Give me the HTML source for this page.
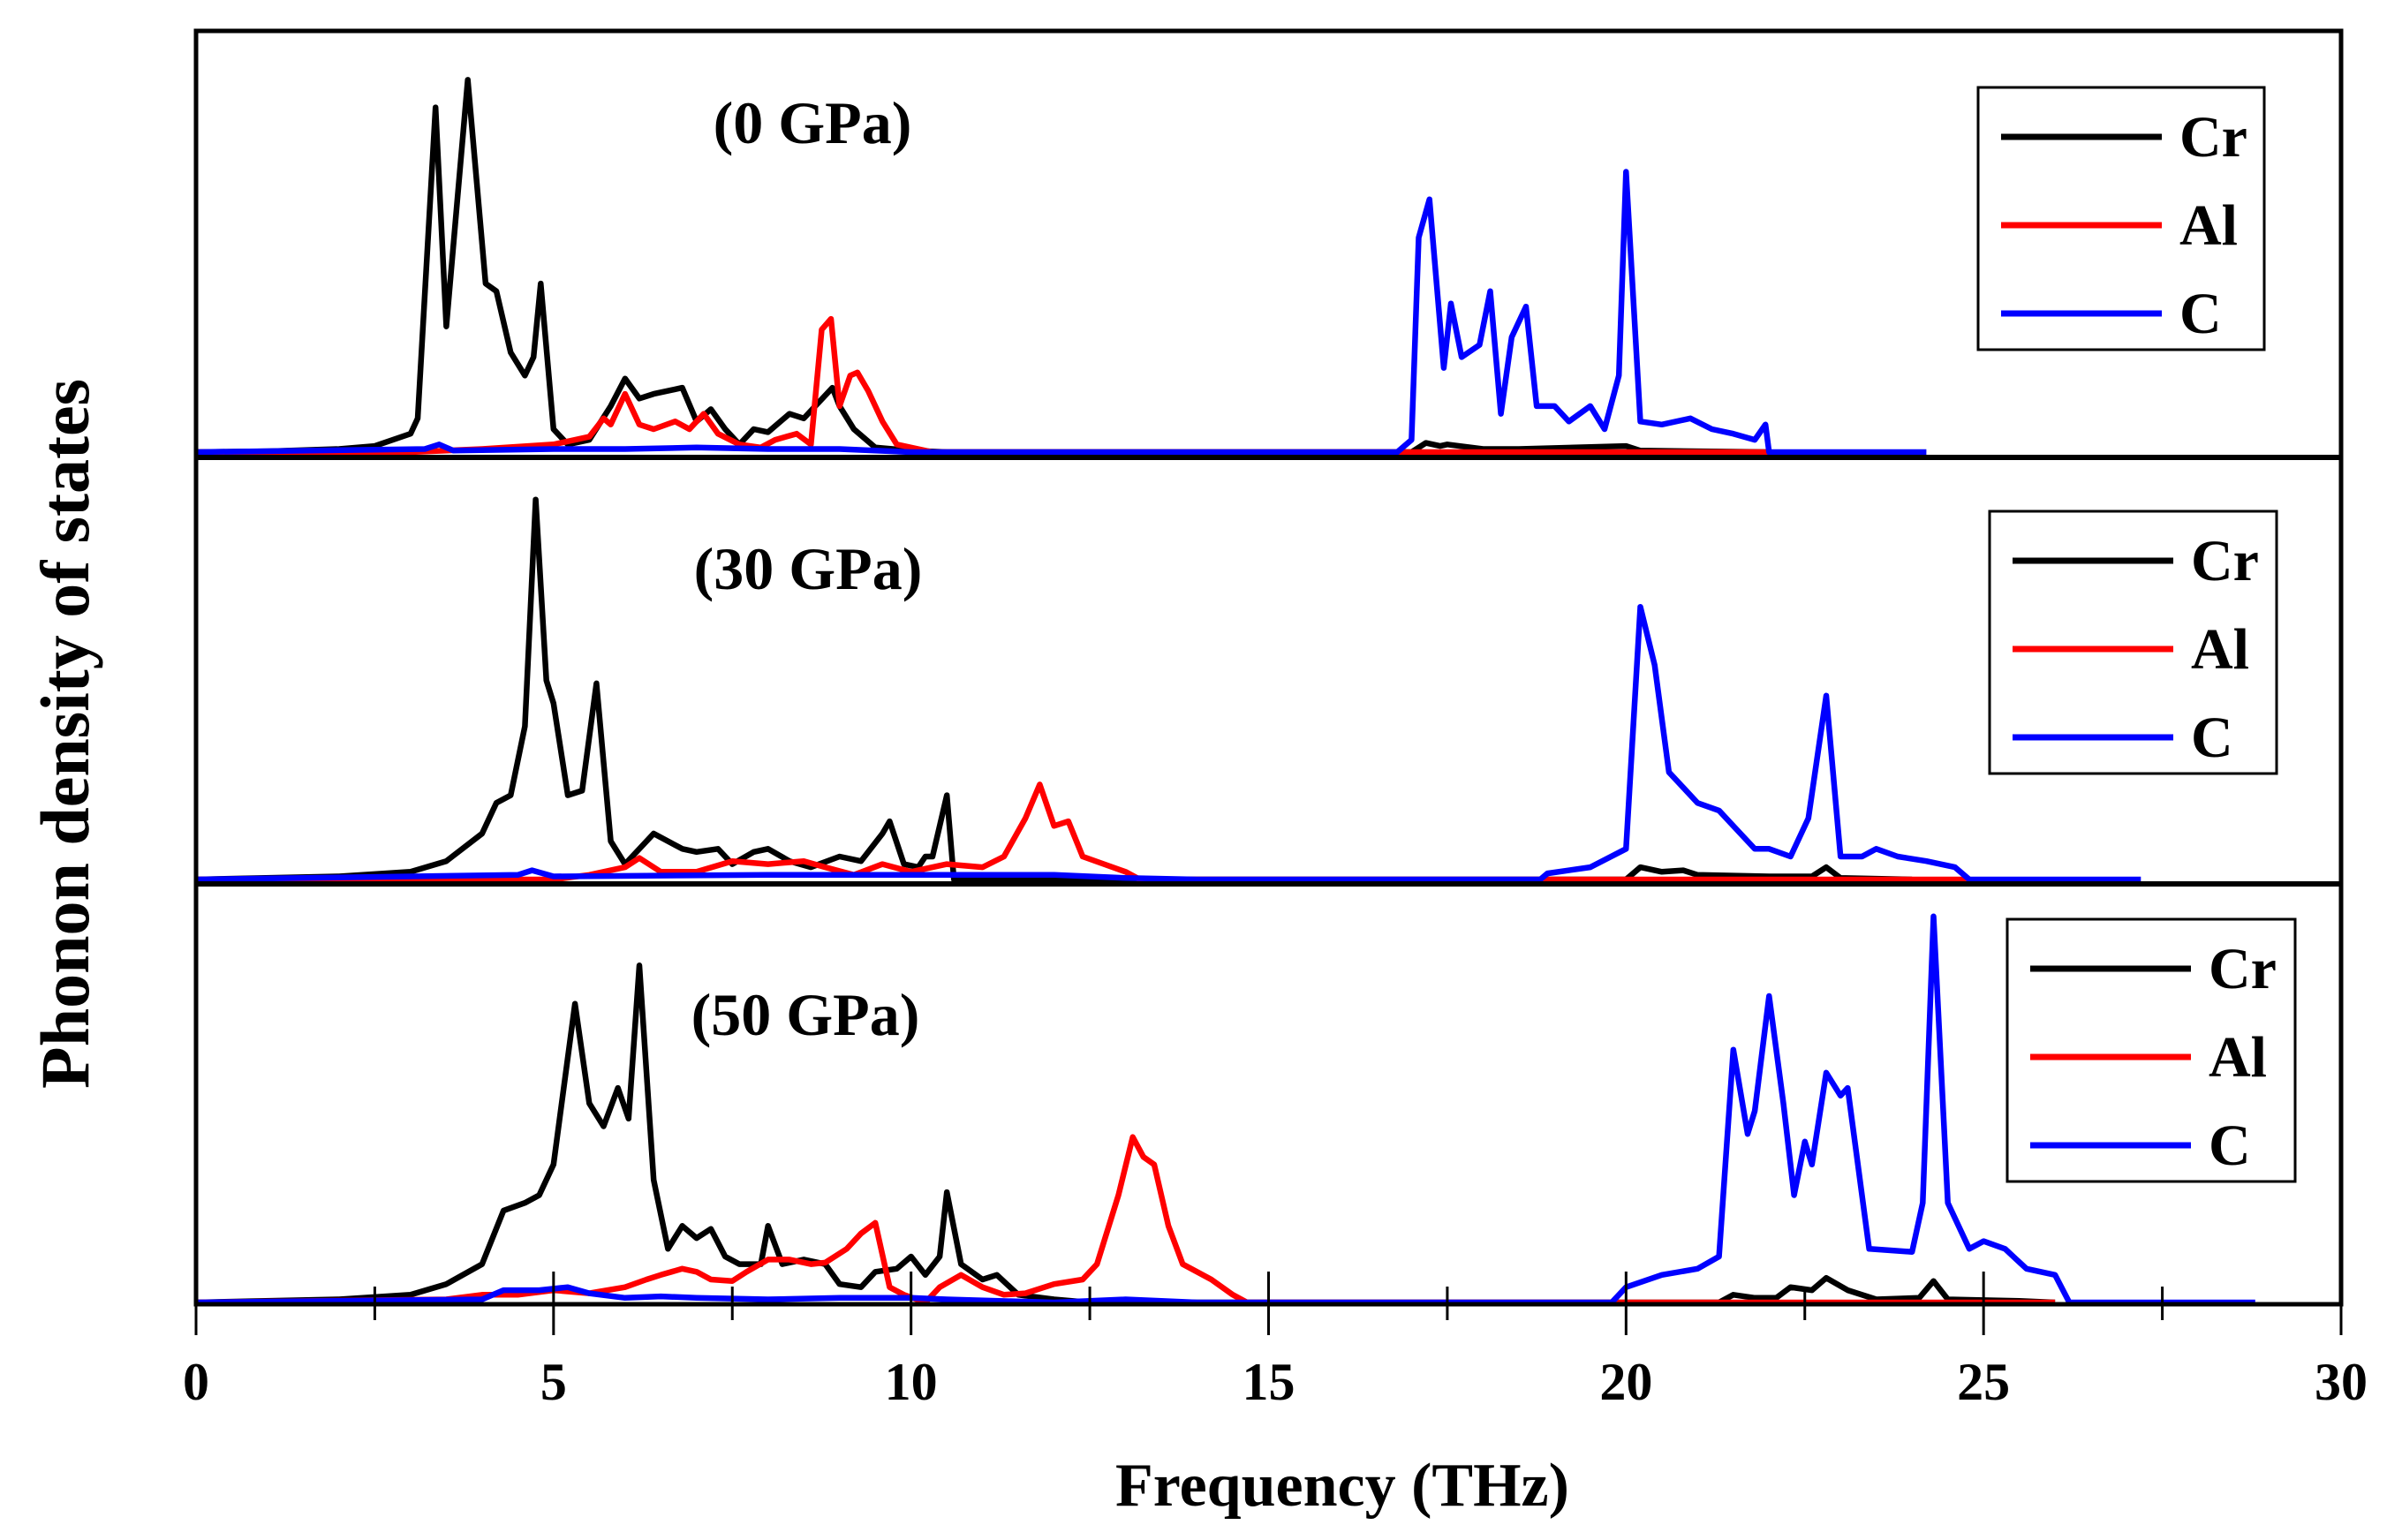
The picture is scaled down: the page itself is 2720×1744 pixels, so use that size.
<!DOCTYPE html>
<html><head><meta charset="utf-8"><style>
html,body{margin:0;padding:0;background:#fff}
svg{display:block}
text{font-family:"Liberation Serif",serif;font-weight:bold}
</style></head><body>
<svg id="chart" width="2720" height="1744" viewBox="0 0 2720 1744">
<g id="plot"></g>
</svg>
<script>
// Data: [frequency THz, DOS (arb.)]
const cr0=[[0,0],[1,0.5],[2,2],[2.5,4],[3,12],[3.1,22],[3.35,225],[3.5,82],[3.8,243],[4.05,110],[4.2,105],[4.4,65],[4.6,50],[4.72,62],[4.82,110],[5.0,15],[5.2,5],[5.5,8],[5.8,30],[6.0,48],[6.2,35],[6.4,38],[6.8,42],[7.0,20],[7.2,28],[7.4,15],[7.6,5],[7.8,15],[8.0,13],[8.3,25],[8.5,22],[8.9,42],[9.0,30],[9.2,15],[9.5,3],[10,1],[10.5,0],[17,0],[17.2,6],[17.4,4],[17.5,5],[18,2],[18.5,2],[20,4],[20.2,1],[22,0]];
const al0=[[0,0],[3,0],[4,2],[5,5],[5.5,10],[5.7,22],[5.8,18],[6.0,38],[6.2,18],[6.4,15],[6.7,20],[6.9,15],[7.1,25],[7.3,12],[7.6,5],[7.9,3],[8.1,8],[8.4,12],[8.6,5],[8.75,80],[8.88,87],[9.0,30],[9.15,50],[9.25,52],[9.4,40],[9.6,20],[9.8,5],[10,3],[10.3,0],[17,0],[22,0]];
const c0=[[0,0],[3.2,2],[3.4,5],[3.6,1],[5,2],[6,2],[7,3],[8,2],[9,2],[10,0],[16.8,0],[17.0,8],[17.1,140],[17.25,165],[17.45,55],[17.55,97],[17.7,62],[17.95,70],[18.1,105],[18.25,25],[18.4,75],[18.6,95],[18.75,30],[19.0,30],[19.2,20],[19.5,30],[19.7,15],[19.9,50],[20.0,183],[20.2,20],[20.5,18],[20.9,22],[21.2,15],[21.5,12],[21.8,8],[21.95,18],[22.0,0],[24.2,0]];
const cr30=[[0,0],[2,2],[3,5],[3.5,12],[4.0,30],[4.2,50],[4.4,55],[4.6,100],[4.75,248],[4.9,130],[5.0,115],[5.2,55],[5.4,58],[5.6,128],[5.8,25],[6.0,10],[6.2,20],[6.4,30],[6.8,20],[7.0,18],[7.3,20],[7.5,10],[7.8,18],[8.0,20],[8.3,12],[8.6,8],[9.0,15],[9.3,12],[9.6,30],[9.7,38],[9.9,10],[10.1,8],[10.2,15],[10.3,15],[10.5,55],[10.6,0],[20,0],[20.2,8],[20.5,5],[20.8,6],[21,3],[22,2],[22.6,2],[22.8,8],[23,1],[24,0]];
const al30=[[0,0],[5,0],[5.5,3],[6.0,8],[6.2,14],[6.5,5],[7.0,5],[7.5,12],[8.0,10],[8.5,12],[8.8,8],[9.2,3],[9.6,10],[10,5],[10.5,10],[11,8],[11.3,15],[11.6,40],[11.8,62],[12.0,35],[12.2,38],[12.4,15],[13,5],[13.2,0],[18.8,0],[24.8,0]];
const c30=[[0,0],[4.5,3],[4.7,6],[5,2],[8,3],[12,3],[13,1],[14,0],[18.8,0],[18.9,4],[19.5,8],[20,20],[20.2,178],[20.4,140],[20.6,70],[20.8,60],[21.0,50],[21.3,45],[21.5,35],[21.8,20],[22.0,20],[22.3,15],[22.55,40],[22.8,120],[23.0,15],[23.3,15],[23.5,20],[23.8,15],[24.2,12],[24.6,8],[24.8,0],[27.2,0]];
const cr50=[[0,0],[2,2],[3,5],[3.5,12],[4.0,25],[4.3,60],[4.6,65],[4.8,70],[5.0,90],[5.3,195],[5.5,130],[5.7,115],[5.9,140],[6.05,120],[6.2,220],[6.4,80],[6.6,35],[6.8,50],[7.0,42],[7.2,48],[7.4,30],[7.6,25],[7.9,25],[8.0,50],[8.2,25],[8.5,28],[8.8,25],[9.0,12],[9.3,10],[9.5,20],[9.8,22],[10.0,30],[10.2,18],[10.4,30],[10.5,72],[10.7,25],[11,15],[11.2,18],[11.5,5],[12,2],[12.5,0],[21.3,0],[21.5,5],[21.8,3],[22.1,3],[22.3,10],[22.6,8],[22.8,16],[23.1,8],[23.5,2],[24.1,3],[24.3,14],[24.5,2],[25.5,1],[26,0]];
const al50=[[0,0],[3.5,2],[4,5],[4.5,5],[5,8],[5.5,6],[6,10],[6.3,15],[6.5,18],[6.8,22],[7,20],[7.2,15],[7.5,14],[7.7,20],[8,28],[8.3,28],[8.6,25],[8.8,26],[9.1,35],[9.3,45],[9.5,52],[9.7,10],[9.9,5],[10.2,0],[10.4,10],[10.7,18],[11,10],[11.3,5],[11.6,6],[12,12],[12.4,15],[12.6,25],[12.9,70],[13.1,108],[13.25,95],[13.4,90],[13.6,50],[13.8,25],[14.2,15],[14.5,5],[14.7,0],[20,0],[26,0]];
const c50=[[0,0],[4,2],[4.3,8],[4.8,8],[5.2,10],[5.5,6],[6,3],[6.5,4],[7,3],[8,2],[9,3],[10,3],[10.5,2],[12,0],[13,2],[14,0],[19.8,0],[20,10],[20.5,18],[21,22],[21.3,30],[21.5,165],[21.7,110],[21.8,125],[22.0,200],[22.2,130],[22.35,70],[22.5,105],[22.6,90],[22.8,150],[23.0,135],[23.1,140],[23.4,35],[24.0,33],[24.15,65],[24.3,252],[24.5,65],[24.8,35],[25.0,40],[25.3,35],[25.6,22],[26,18],[26.2,0],[28.8,0]];
const xTicks=[0,5,10,15,20,25,30];
const pressures=["(0 GPa)","(30 GPa)","(50 GPa)"];
const legendLabels=["Cr","Al","C"];

const NS="http://www.w3.org/2000/svg";
const g=document.getElementById('plot');
const X0=222,X1=2651;
function xs(f){return X0+f*(X1-X0)/30;}
function ys(v,base){return base-v*1.735;}
function mk(tag,attrs,parent){const e=document.createElementNS(NS,tag);for(const k in attrs)e.setAttribute(k,attrs[k]);(parent||g).appendChild(e);return e;}

const panels=[
 {base:512,top:35,bot:518,data:[cr0,al0,c0],title:[920,140],leg:[2240,99,324,297]},
 {base:996,top:518,bot:1001,data:[cr30,al30,c30],title:[915,645],leg:[2253,579,325,297]},
 {base:1475,top:1001,bot:1477,data:[cr50,al50,c50],title:[912,1150],leg:[2273,1041,326,297]}
];
const colors=["#000","#f00","#00f"];
const names=["cr","al","c"];

panels.forEach((p,pi)=>{
  p.data.forEach((ser,si)=>{
    const d=ser.map((pt,i)=>(i?'L':'M')+xs(pt[0]).toFixed(1)+' '+ys(pt[1],p.base).toFixed(1)).join(' ');
    const path=mk('path',{d:d,fill:'none',stroke:colors[si],'stroke-width':6.5,'stroke-linejoin':'round'});
    
    
  });
  const t=mk('text',{x:p.title[0],y:p.title[1]+22,'font-size':68,'text-anchor':'middle'});
  t.textContent=pressures[pi];
  
  
  const lg=mk('g',{});
  
  
  const [lx,ly,lw,lh]=p.leg;
  mk('rect',{x:lx,y:ly,width:lw,height:lh,fill:'#fff',stroke:'#000','stroke-width':3},lg);
  legendLabels.forEach((lab,li)=>{
    const cy=ly+56+li*100;
    const ln=mk('line',{x1:lx+26,x2:lx+208,y1:cy,y2:cy,stroke:colors[li],'stroke-width':7},lg);
    
    
    const tx=mk('text',{x:lx+228,y:cy+22,'font-size':66},lg);
    tx.textContent=lab;
    
    
  });
});
// frame
const fr=mk('rect',{x:X0,y:35,width:X1-X0,height:1477-35,fill:'none',stroke:'#000','stroke-width':5});


[518,1001].forEach(y=>{
  const l=mk('line',{x1:X0,x2:X1,y1:y,y2:y,stroke:'#000','stroke-width':6});
  
  
});
// ticks
for(let f=0;f<=30;f+=2.5){
  const major=Math.abs(f%5)<1e-9;
  const tk=mk('line',{x1:xs(f),x2:xs(f),y1:major?1440:1457,y2:major?1512:1495,stroke:'#000','stroke-width':3});
  
  
}
xTicks.forEach(v=>{
  const t=mk('text',{x:xs(v),y:1585,'font-size':60,'text-anchor':'middle'});
  t.textContent=v;
  
  
});
const xt=mk('text',{x:1520,y:1705,'font-size':70,'text-anchor':'middle'});
xt.textContent='Frequency (THz)';


const yt=mk('text',{x:0,y:0,'font-size':78,'text-anchor':'middle',transform:'translate(100,831) rotate(-90)'});
yt.textContent='Phonon density of states';


</script>
</body></html>
